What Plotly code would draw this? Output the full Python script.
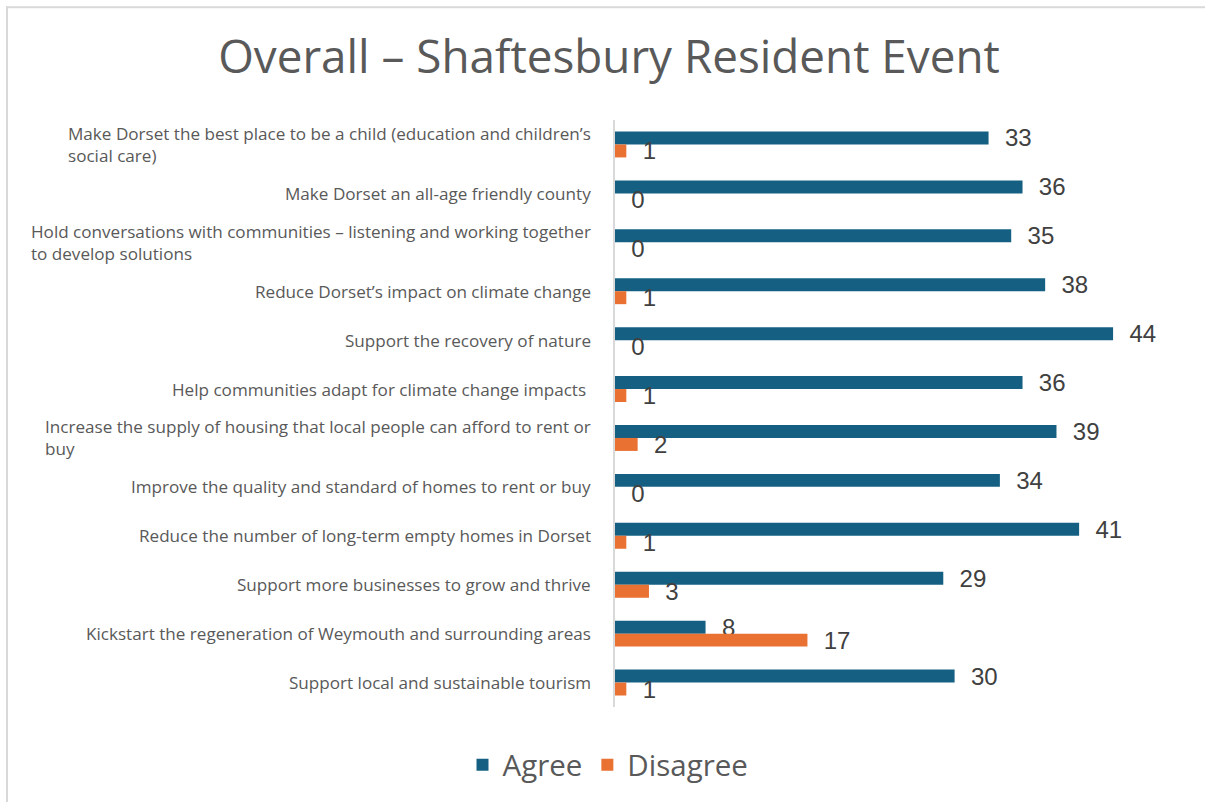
import plotly.graph_objects as go

categories = [
    "Make Dorset the best place to be a child (education and children’s<br>social care)",
    "Make Dorset an all-age friendly county",
    "Hold conversations with communities – listening and working together<br>to develop solutions",
    "Reduce Dorset’s impact on climate change",
    "Support the recovery of nature",
    "Help communities adapt for climate change impacts\u00a0",
    "Increase the supply of housing that local people can afford to rent or<br>buy",
    "Improve the quality and standard of homes to rent or buy",
    "Reduce the number of long-term empty homes in Dorset",
    "Support more businesses to grow and thrive",
    "Kickstart the regeneration of Weymouth and surrounding areas",
    "Support local and sustainable tourism",
]
agree = [33, 36, 35, 38, 44, 36, 39, 34, 41, 29, 8, 30]
disagree = [1, 0, 0, 1, 0, 1, 2, 0, 1, 3, 17, 1]

W, H = 1205, 802
ML, MR, MT, MB = 615, 24, 120, 94
PW, PH = W - ML - MR, H - MT - MB

TEXT_FONT = "Open Sans"
LABEL_FONT = "Liberation Sans"
GREY = "#595959"

pos = list(range(len(categories)))
pad = "\u00a0\u00a0"

fig = go.Figure()
fig.add_trace(go.Bar(
    name="Agree", y=pos, x=agree, orientation="h",
    marker=dict(color="#156082", line=dict(width=0)),
    text=[pad + str(v) for v in agree], textposition="outside",
    textfont=dict(family=LABEL_FONT, size=24, color="#404040"),
    cliponaxis=False, constraintext="none",
))
fig.add_trace(go.Bar(
    name="Disagree", y=pos, x=disagree, orientation="h",
    marker=dict(color="#E97132", line=dict(width=0)),
    text=[pad + str(v) for v in disagree], textposition="outside",
    textfont=dict(family=LABEL_FONT, size=24, color="#404040"),
    cliponaxis=False, constraintext="none",
))

annotations = []
for i, c in enumerate(categories):
    annotations.append(dict(
        x=0, y=i, xref="x", yref="y", text=c, showarrow=False,
        xanchor="right", yanchor="middle", align="left", xshift=-22,
        font=dict(family=TEXT_FONT, size=17.1, color=GREY),
    ))

def px_x(px):
    return (px - ML) / PW

def px_y(py):
    return 1 - (py - MT) / PH

shapes = [
    dict(type="line", xref="paper", yref="paper", x0=px_x(6), x1=px_x(1215),
         y0=px_y(7), y1=px_y(7), line=dict(color="#d9d9d9", width=2)),
    dict(type="line", xref="paper", yref="paper", x0=px_x(7), x1=px_x(7),
         y0=px_y(6), y1=px_y(815), line=dict(color="#d9d9d9", width=2)),
]

fig.update_layout(
    width=W, height=H,
    margin=dict(l=ML, r=MR, t=MT, b=MB),
    paper_bgcolor="white", plot_bgcolor="white",
    barmode="group", bargap=0.47, bargroupgap=0,
    title=dict(text="Overall – Shaftesbury Resident Event", xref="container", x=609 / W,
               y=1 - 57 / H, xanchor="center", yanchor="middle",
               font=dict(family=TEXT_FONT, size=45.8, color=GREY)),
    xaxis=dict(range=[0, 50], showgrid=False, zeroline=False, showticklabels=False,
               showline=False, fixedrange=True),
    yaxis=dict(range=[11.5, -0.5], showgrid=False, zeroline=False, showticklabels=False,
               showline=True, linecolor="#d9d9d9", linewidth=1.5, ticks=""),
    legend=dict(orientation="h", x=px_x(608), xanchor="center", y=px_y(765), yanchor="middle",
                font=dict(family=TEXT_FONT, size=29.5, color=GREY), traceorder="normal"),
    annotations=annotations, shapes=shapes,
)

fig.write_html("out.html", config={"displayModeBar": False},
               post_script="document.body.style.margin='0px';")
